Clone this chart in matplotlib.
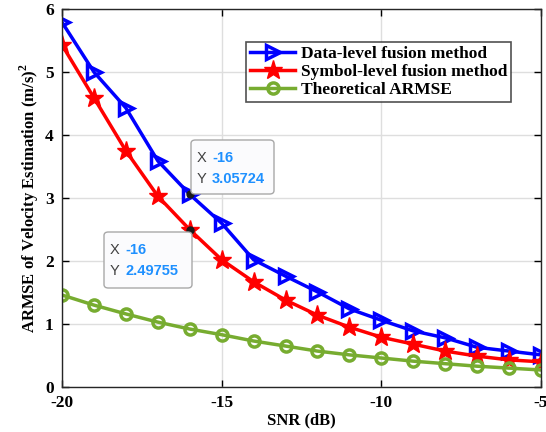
import matplotlib
matplotlib.use('Agg')
import matplotlib.pyplot as plt
from matplotlib.patches import FancyBboxPatch

plt.rcParams['font.family'] = 'Liberation Serif'
plt.rcParams['font.weight'] = 'bold'
plt.rcParams['axes.unicode_minus'] = False
plt.rcParams['mathtext.fontset'] = 'custom'
plt.rcParams['mathtext.rm'] = 'Liberation Serif:bold'

snr = [-20, -19, -18, -17, -16, -15, -14, -13, -12, -11, -10, -9, -8, -7, -6, -5]
data_level = [5.79, 5.00, 4.43, 3.59, 3.05724, 2.60, 2.02, 1.76, 1.51, 1.24,
              1.06, 0.89, 0.78, 0.63, 0.57, 0.51]
symbol_level = [5.43, 4.59, 3.75, 3.03, 2.49755, 2.02, 1.67, 1.38, 1.14, 0.95,
                0.79, 0.68, 0.57, 0.49, 0.43, 0.40]
theory = [1.46, 1.30, 1.16, 1.03, 0.92, 0.83, 0.73, 0.65, 0.57, 0.51,
          0.46, 0.41, 0.37, 0.33, 0.30, 0.27]

W, H = 546, 432
fig = plt.figure(figsize=(W / 100, H / 100), dpi=100)
ax = fig.add_axes([62 / W, 1 - 387 / H, 479 / W, 378 / H])

ax.plot(snr, data_level, color='#0000ff', lw=2.5, marker='>', ms=10, mfc='none',
        mew=2.5, label='Data-level fusion method')
ax.plot(snr, symbol_level, color='#ff0000', lw=2.5, marker='*', ms=14,
        label='Symbol-level fusion method')
ax.plot(snr, theory, color='#77ac30', lw=2.5, marker='o', ms=8, mfc='none',
        mew=2.5, label='Theoretical ARMSE')

ax.set_xlim(-20, -5)
ax.set_ylim(0, 6)
ax.set_xticks([-20, -15, -10, -5])
ax.set_yticks(range(7))
ax.grid(True, color='#dedede', lw=1)
ax.set_axisbelow(True)
ax.tick_params(direction='in', top=True, right=True, labelsize=12.5,
               width=1, length=5, pad=6)
for s in ax.spines.values():
    s.set_linewidth(1)
    s.set_color('#262626')

ax.set_xlabel('SNR (dB)', fontsize=12, fontweight='bold', labelpad=1)
ax.set_ylabel('ARMSE of Velocity Estimation (m/s)$^2$', fontsize=12,
              fontweight='bold', labelpad=3)

leg = ax.legend(loc='upper left', bbox_to_anchor=(0.384, 0.914), fontsize=12.5,
                frameon=True, fancybox=False, edgecolor='#262626',
                handlelength=2.6, borderpad=0.25, labelspacing=0.1,
                handletextpad=0.3, borderaxespad=0)
leg.get_frame().set_linewidth(1.2)


def draw_tip(px, py, w, h, xv, yv):
    # px, py: top-left corner of the box in image pixels
    p = FancyBboxPatch((px / W, 1 - (py + h) / H), w / W, h / H,
                       boxstyle='round,pad=0,rounding_size=0.008',
                       transform=fig.transFigure, fc='#fbfbfd', ec='#a8a8a8',
                       lw=1, zorder=6)
    fig.patches.append(p)
    fx = (px + 6) / W
    rows = [('X', f'{xv}', py + 18), ('Y', f'{yv:.6g}', py + 39)]
    for lab, val, ry in rows:
        fig.text(fx, 1 - ry / H, lab, fontsize=10.5, family='Liberation Sans',
                 fontweight='normal', color='#404040', va='center', zorder=8)
        fig.text(fx + 15 / W, 1 - ry / H, val, fontsize=10.5,
                 family='Liberation Sans', fontweight='bold', color='#1e90ff',
                 va='center', zorder=8)


ax.plot(snr[4], data_level[4], 'o', color='#1a1a1a', ms=5, zorder=7)
ax.plot(snr[4], symbol_level[4], 'o', color='#1a1a1a', ms=5, zorder=7)
draw_tip(191, 140, 83, 54, snr[4], data_level[4])
draw_tip(104, 232, 88, 56, snr[4], symbol_level[4])

fig.savefig('out.png', dpi=100)
